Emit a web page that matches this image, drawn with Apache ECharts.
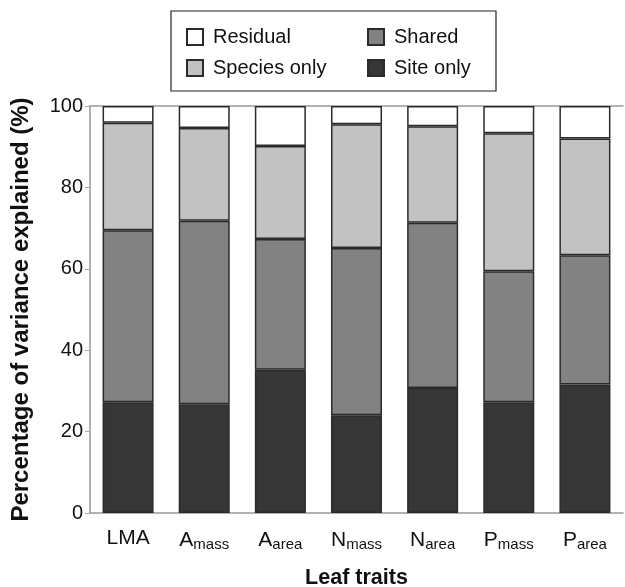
<!DOCTYPE html>
<html><head><meta charset="utf-8">
<script src="https://cdn.jsdelivr.net/npm/echarts@6/dist/echarts.min.js"></script>
<style>html,body{margin:0;padding:0;background:#fff}#c{width:625px;height:587px}</style>
</head><body><div id="c"></div>
<script>
var categories = ['LMA', 'A{s|mass}', 'A{s|area}', 'N{s|mass}', 'N{s|area}', 'P{s|mass}', 'P{s|area}'];
var siteOnly = [27.2, 26.7, 35.2, 24.0, 30.7, 27.2, 31.6];
var shared = [42.3, 45.1, 32.1, 41.1, 40.6, 32.2, 31.7];
var speciesOnly = [26.4, 22.8, 22.9, 30.4, 23.7, 33.9, 28.7];
var residual = [4.1, 5.4, 9.8, 4.5, 5.0, 6.7, 8.0];
var yTicks = [0, 20, 40, 60, 80, 100];

var font = 'Liberation Sans, Arial, sans-serif';
var chart = echarts.init(document.getElementById('c'));
function ser(name, data, color) {
  return { name: name, type: 'bar', stack: 'v', data: data, barWidth: '67%',
    itemStyle: { color: color, borderColor: '#2b2b2b', borderWidth: 1.5 } };
}
var legendText = { fontFamily: font, fontSize: 20, color: '#111', padding: [0, 0, 0, 5] };
chart.setOption({
  animation: false,
  grid: { left: 90, right: 2, top: 106, bottom: 74, containLabel: false, outerBoundsMode: 'none' },
  graphic: [{ type: 'rect', shape: { x: 171, y: 11, width: 325, height: 80 },
    style: { fill: 'none', stroke: '#222', lineWidth: 1.2 } }],
  legend: [
    { orient: 'vertical', left: 186, top: 27, padding: 0, itemWidth: 16, itemHeight: 16, itemGap: 11,
      icon: 'rect', data: ['Residual', 'Species only'], textStyle: legendText },
    { orient: 'vertical', left: 367, top: 27, padding: 0, itemWidth: 16, itemHeight: 16, itemGap: 11,
      icon: 'rect', data: ['Shared', 'Site only'], textStyle: legendText }
  ],
  xAxis: [{
    type: 'category', data: categories,
    axisLine: { lineStyle: { color: '#999', width: 1.5 } },
    axisTick: { inside: true, length: 4, lineStyle: { color: '#aaa' } },
    axisLabel: { interval: 0, fontFamily: font, fontSize: 21, color: '#111', margin: 15,
      rich: { s: { fontFamily: font, fontSize: 15, color: '#111', padding: [9, 0, 0, 0] } } },
    name: 'Leaf traits', nameLocation: 'middle', nameGap: 54,
    nameTextStyle: { fontFamily: font, fontSize: 21.5, fontWeight: 'bold', color: '#111' }
  }, {
    type: 'category', position: 'top', data: categories,
    axisLine: { lineStyle: { color: '#999', width: 1.5 } },
    axisTick: { show: false }, axisLabel: { show: false }
  }],
  yAxis: {
    type: 'value', min: 0, max: 100, interval: 20,
    axisLine: { show: true, lineStyle: { color: '#999', width: 1.5 } },
    axisTick: { show: true, length: 5, lineStyle: { color: '#aaa' } },
    splitLine: { show: false },
    axisLabel: { fontFamily: font, fontSize: 20, color: '#111', margin: 7,
      formatter: function (v) { return yTicks.indexOf(v) >= 0 ? String(v) : ''; } },
    name: 'Percentage of variance explained (%)', nameLocation: 'middle', nameGap: 57,
    nameTextStyle: { fontFamily: font, fontSize: 24, fontWeight: 'bold', color: '#111' }
  },
  series: [
    ser('Site only', siteOnly, '#363636'),
    ser('Shared', shared, '#828282'),
    ser('Species only', speciesOnly, '#c2c2c2'),
    ser('Residual', residual, '#ffffff')
  ]
});
</script></body></html>
